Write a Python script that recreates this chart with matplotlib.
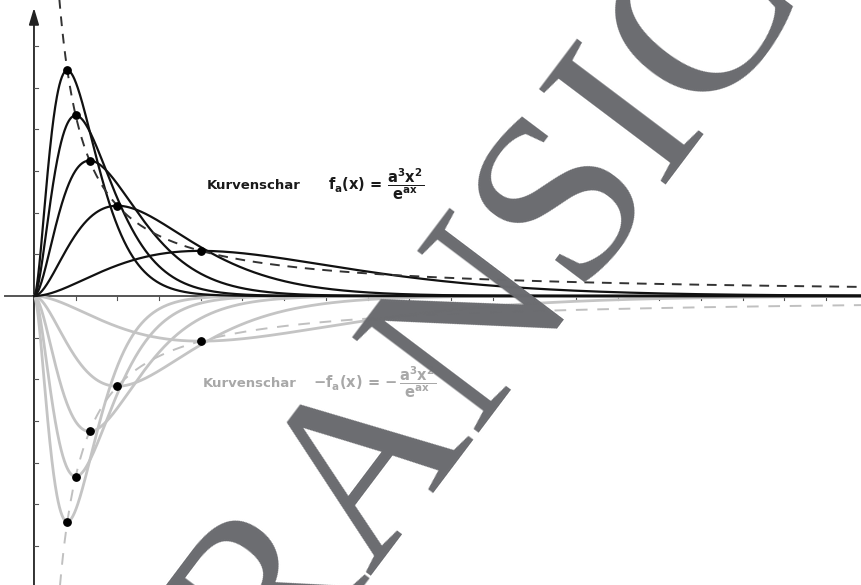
import numpy as np
import matplotlib
matplotlib.use("Agg")
import matplotlib.pyplot as plt

# Parameter der Kurvenschar f_a(x) = a^3 x^2 / e^(a x)
a_values = [0.5, 1.0, 1.5, 2.0, 2.5]
x_ticks = list(range(1, 20))
y_ticks = [-1.5, -1.25, -1.0, -0.75, -0.5, -0.25, 0.25, 0.5, 0.75, 1.0, 1.25, 1.5]

label_top = "Kurvenschar"
formula_top = r"$\mathbf{f_a(x)}\,\mathbf{=}\,\dfrac{\mathbf{a^3x^2}}{\mathbf{e^{ax}}}$"
formula_bottom = r"$\mathbf{-f_a(x)}\,\mathbf{=}\,\mathbf{-}\,\dfrac{\mathbf{a^3x^2}}{\mathbf{e^{ax}}}$"
watermark = "TRANSICIÓN"


def f(a, x):
    return a ** 3 * x ** 2 * np.exp(-a * x)


plt.rcParams["mathtext.fontset"] = "dejavusans"

fig = plt.figure(figsize=(8.62, 5.85), dpi=100)
ax = fig.add_axes([0, 0, 1, 1])
ax.set_xlim(-0.815, 19.86)
ax.set_ylim(-1.733, 1.775)
ax.axis("off")

axis_col = "#555555"
xs = np.linspace(0, 20, 2000)

# untere Kurven (grau)
for a in a_values:
    ax.plot(xs, -f(a, xs), color="#c4c4c4", lw=2.0, zorder=2, solid_capstyle="round")
# obere Kurven (schwarz)
for a in a_values:
    ax.plot(xs, f(a, xs), color="#111111", lw=1.6, zorder=3)

# Ortskurve der Extrempunkte: y = 8 / (e^2 x)
xh = np.linspace(0.5, 20, 1000)
ax.plot(xh, 8 / (np.e ** 2 * xh), color="#333333", lw=1.4, ls=(0, (5, 4)), zorder=3)
ax.plot(xh, -8 / (np.e ** 2 * xh), color="#c0c0c0", lw=1.4, ls=(0, (6, 5)), zorder=2)

# Extrempunkte
xm = np.array([2 / a for a in a_values])
ym = np.array([4 * a / np.e ** 2 for a in a_values])
ax.scatter(xm, ym, s=28, color="black", zorder=5)
ax.scatter(xm, -ym, s=28, color="black", zorder=5)

# Achsen
ax.plot([-0.7, 19.86], [0, 0], color=axis_col, lw=1.4, zorder=1)
ax.annotate("", xy=(0, 1.728), xytext=(0, -1.733),
            arrowprops=dict(arrowstyle="-|>,head_length=1.0,head_width=0.3",
                            color="#222222", lw=1.3, shrinkA=0, shrinkB=0), zorder=1)
for t in x_ticks:
    ax.plot([t, t], [0, -0.022], color=axis_col, lw=0.8, zorder=1)
for t in y_ticks:
    ax.plot([0, 0.09], [t, t], color=axis_col, lw=0.8, zorder=1)

# Beschriftungen
ax.text(4.15, 0.665, label_top, fontsize=9.5, fontweight="bold", color="#1a1a1a",
        ha="left", va="center", zorder=4)
ax.text(7.05, 0.67, formula_top, fontsize=10.5, color="#1a1a1a",
        ha="left", va="center", zorder=4)
ax.text(4.05, -0.525, label_top, fontsize=9.5, fontweight="bold", color="#a8a8a8",
        ha="left", va="center", zorder=4)
ax.text(6.7, -0.515, formula_bottom, fontsize=10.5, color="#a8a8a8",
        ha="left", va="center", zorder=4)

# Wasserzeichen
fig.text(183 / 862, 1 - 820 / 585, watermark, fontsize=174, family="Liberation Serif",
         color="#6b6c70", rotation=53, rotation_mode="anchor",
         ha="left", va="baseline", zorder=10)

fig.savefig("out.png", dpi=100)
